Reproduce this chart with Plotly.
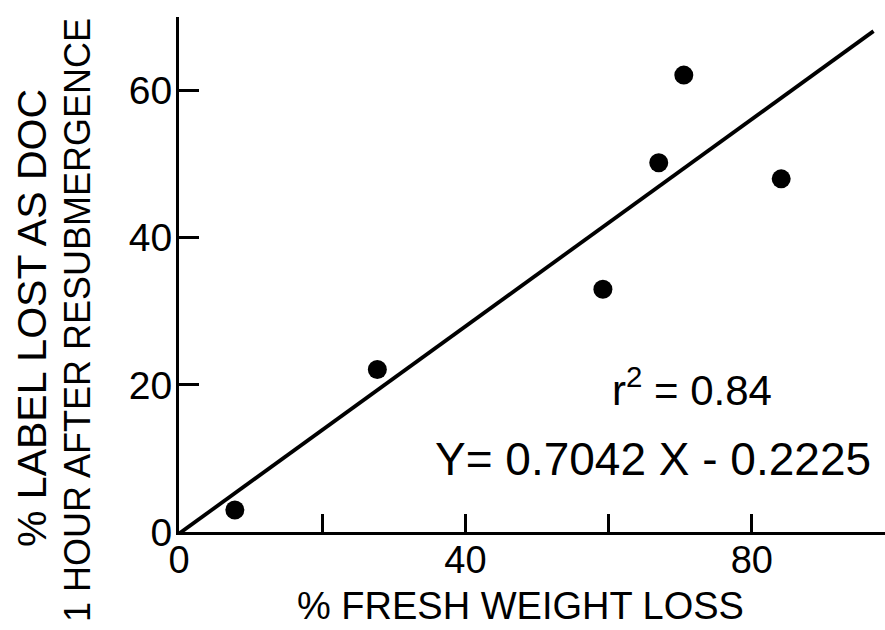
import plotly.graph_objects as go

# Observations: fresh weight loss (%) vs. label lost as DOC (%)
weight_loss = [7.8, 27.7, 59.2, 67.0, 70.5, 84.1]
label_lost = [3.0, 22.1, 33.0, 50.2, 62.1, 48.0]

# Least-squares fit reported on the chart
slope = 0.7042
intercept = -0.2225
r_squared = 0.84
fit_x = [0.0, 97.0]
fit_y = [slope * v + intercept for v in fit_x]

x_labeled = [0, 40, 80]
x_unlabeled = [20, 60]
y_ticks = [0, 20, 40, 60]

W, H = 885, 630
M_L, M_R, M_T, M_B = 179, 0, 17, 98
FONT = "Liberation Sans, Arial, sans-serif"


def paper(px, py):
    """Convert page pixel coordinates to paper coordinates."""
    pw = W - M_L - M_R
    ph = H - M_T - M_B
    return (px - M_L) / pw, (H - M_B - py) / ph


fig = go.Figure()

fig.add_trace(go.Scatter(
    x=fit_x, y=fit_y, mode="lines",
    line=dict(color="black", width=3.8),
    hoverinfo="skip", showlegend=False,
))
fig.add_trace(go.Scatter(
    x=weight_loss, y=label_lost, mode="markers",
    marker=dict(color="black", size=19),
    showlegend=False,
))

annotations = []


def add_text(text, px, py, size, angle=0):
    ax, ay = paper(px, py)
    annotations.append(dict(
        text=text, x=ax, y=ay, xref="paper", yref="paper",
        xanchor="center", yanchor="middle", showarrow=False,
        textangle=angle, font=dict(family=FONT, size=size, color="black"),
    ))


add_text("% LABEL LOST AS DOC", 32, 318, 41, -90)
add_text("1 HOUR AFTER RESUBMERGENCE", 77, 320, 36, -90)
add_text("% FRESH WEIGHT LOSS", 520, 606, 38)
add_text(f"r<sup>2</sup> = {r_squared:.2f}", 692, 387, 42)
add_text(f"Y= {slope:.4f} X - {abs(intercept):.4f}", 653, 459, 46)

fig.update_layout(
    width=W, height=H,
    margin=dict(l=M_L, r=M_R, t=M_T, b=M_B, pad=0),
    paper_bgcolor="white", plot_bgcolor="white",
    font=dict(family=FONT, color="black"),
    annotations=annotations,
    xaxis=dict(
        range=[0, 98.6], showgrid=False, zeroline=False,
        showline=True, linecolor="black", linewidth=3,
        ticks="inside", ticklen=18, tickwidth=2.5, tickcolor="black",
        tickvals=x_labeled, ticktext=[str(v) for v in x_labeled],
        ticklabelstandoff=-8,
        tickfont=dict(family=FONT, size=38, color="black"),
        minor=dict(tickvals=x_unlabeled, ticks="inside", ticklen=18,
                   tickwidth=2.5, tickcolor="black", showgrid=False),
    ),
    yaxis=dict(
        range=[0, 70], showgrid=False, zeroline=False,
        showline=True, linecolor="black", linewidth=3,
        ticks="inside", ticklen=20, tickwidth=2.5, tickcolor="black",
        tickvals=y_ticks, ticktext=[str(v) for v in y_ticks],
        ticklabelstandoff=-4,
        tickfont=dict(family=FONT, size=39, color="black"),
    ),
)

fig.write_html("out.html")
